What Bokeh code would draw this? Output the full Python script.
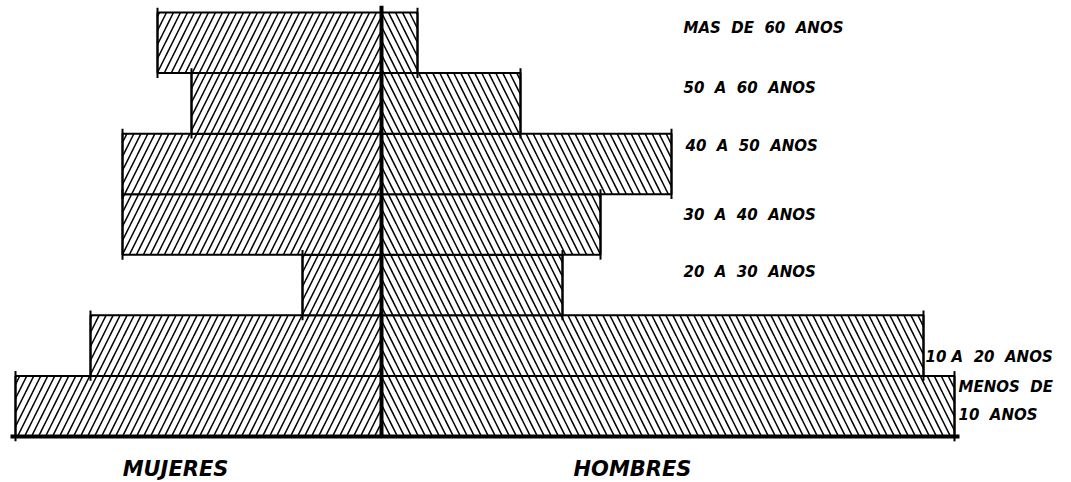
from bokeh.plotting import figure
from bokeh.models import Range1d, ColumnDataSource
from bokeh.embed import file_html
from bokeh.resources import INLINE
from bokeh.core.properties import value

# Age groups, bottom to top
groups = ["MENOS DE 10 ANOS", "10 A 20 ANOS", "20 A 30 ANOS", "30 A 40 ANOS",
          "40 A 50 ANOS", "50 A 60 ANOS", "MAS DE 60 ANOS"]
mujeres = [36.6, 29.1, 7.9, 25.9, 25.9, 19.0, 22.4]
hombres = [57.3, 54.2, 18.1, 21.9, 29.0, 13.9, 3.6]

NB = "\u00a0"
# label layout (text, x, y) in plot units
label_text = ["MAS DE 60 ANOS", "50 A 60 ANOS", "40 A 50 ANOS", "30 A 40 ANOS",
              "20 A 30 ANOS", "10 A 20 ANOS", "MENOS DE", "10 ANOS"]
label_x = [30.2, 30.2, 30.4, 30.2, 30.2, 54.4, 57.7, 57.7]
label_y = [6.74, 5.76, 4.79, 3.65, 2.72, 1.32, 0.82, 0.35]
label_disp = [t.replace(" ", NB + NB) if i != 5 else t.replace(" ", NB, 1).replace(" ", NB + NB) for i, t in enumerate(label_text)]

yc = [i + 0.5 for i in range(len(groups))]

p = figure(width=1071, height=482, output_backend="svg", toolbar_location=None,
           x_range=Range1d(-38.1, 69.0), y_range=Range1d(-0.759, 7.198),
           min_border=0)
p.axis.visible = False
p.grid.visible = False
p.outline_line_color = None
p.background_fill_color = "white"

src = ColumnDataSource(dict(y=yc, left=[-v for v in mujeres], right=hombres,
                            zero=[0] * len(yc)))

p.hbar(y="y", left="left", right="zero", height=1, source=src,
       fill_color="white", line_color="black", line_width=2,
       hatch_pattern="/", hatch_color="black", hatch_scale=14, hatch_weight=1.5)
p.hbar(y="y", left="zero", right="right", height=1, source=src,
       fill_color="white", line_color="black", line_width=2,
       hatch_pattern="\\", hatch_color="black", hatch_scale=14, hatch_weight=1.5)

# small corner marks at the outer edges
ex = [-v for v in mujeres] + hombres
ey = yc + yc
p.segment(x0=ex, y0=[y - 0.58 for y in ey], x1=ex, y1=[y + 0.58 for y in ey],
          line_color="black", line_width=2)

# centre line and base line
p.segment(x0=[0], y0=[0], x1=[0], y1=[len(groups) + 0.11], line_color="black", line_width=4)
p.segment(x0=[-max(mujeres) - 0.5], y0=[0], x1=[max(hombres) + 0.5], y1=[0],
          line_color="black", line_width=4)

p.text(x=label_x, y=label_y, text=label_disp, text_font=value("DejaVu Sans"),
       text_font_style="bold italic", text_font_size="15px",
       text_align="left", text_baseline="middle", text_color="black")

p.text(x=[-20.6, 25.1], y=[-0.53, -0.53], text=["MUJERES", "HOMBRES"],
       text_font=value("DejaVu Sans"), text_font_style="bold italic",
       text_font_size="21px", text_align="center", text_baseline="middle",
       text_color="black")

open("out.html", "w").write(file_html(p, INLINE))
